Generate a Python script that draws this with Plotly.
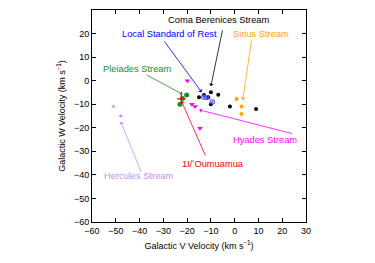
import plotly.graph_objects as go

# Data (V, W velocities in km/s)
coma_v = [-15.0, -12.9, -11.1, -10.0, -10.0, -6.9, -2.0, 9.0]
coma_w = [-7.0, -6.1, -7.0, -4.9, -10.0, -6.0, -11.0, -12.0]
lsr_v = [-13.0, -11.8, -9.4]
lsr_w = [-7.0, -7.2, -9.0]
sirius_v = [0.8, 2.9, 2.9]
sirius_w = [-7.8, -11.0, -14.1]
pleiades_v = [-20.2, -22.0, -23.0]
pleiades_w = [-6.1, -7.6, -10.0]
hyades_v = [-19.9, -18.0, -16.7, -14.6]
hyades_w = [0.0, -10.0, -11.0, -20.2]
hercules_v = [-51.0, -47.9]
hercules_w = [-11.0, -15.0]
oumuamua_v = [-22.4]
oumuamua_w = [-7.7]

# Labels: text, color, text position (V, W), arrow tail (V, W), arrow head (V, W)
labels = [
    ("Coma Berenices Stream", "#000000", (-6.8, 25.6), (-5.0, 22.0), (-10.0, -2.3)),
    ("Local Standard of Rest", "#0000ff", (-27.5, 19.7), (-30.0, 17.3), (-13.9, -4.9)),
    ("Sirius Stream", "#ffa500", (11.0, 19.7), (7.2, 18.0), (3.4, -8.2)),
    ("Pleiades Stream", "#228b22", (-41.0, 5.0), (-37.7, 2.8), (-21.9, -5.8)),
    ("Hyades Stream", "#ff00ff", (12.8, -25.0), (24.7, -22.6), (-14.9, -12.4)),
    ("1I/\u02bbOumuamua", "#ff0000", (-9.0, -35.5), (-12.1, -32.3), (-22.4, -8.6)),
    ("Hercules Stream", "#c090ff", (-40.5, -40.5), (-39.1, -39.3), (-47.9, -17.4)),
]

FONT = "Liberation Sans, Arial, sans-serif"

fig = go.Figure()
fig.add_trace(go.Scatter(x=coma_v, y=coma_w, mode="markers",
                         marker=dict(color="black", size=4, symbol="circle")))
fig.add_trace(go.Scatter(x=lsr_v, y=lsr_w, mode="markers",
                         marker=dict(color="#5050ff", size=4, symbol="square-open", line=dict(width=0.8)),
                         error_x=dict(type="constant", value=0.8, color="#7070ff", thickness=0.7, width=1),
                         error_y=dict(type="constant", value=0.8, color="#7070ff", thickness=0.7, width=1)))
fig.add_trace(go.Scatter(x=sirius_v, y=sirius_w, mode="markers",
                         marker=dict(color="#ffa500", size=4, symbol="circle")))
fig.add_trace(go.Scatter(x=pleiades_v, y=pleiades_w, mode="markers",
                         marker=dict(color="#228b22", size=5, symbol="circle")))
fig.add_trace(go.Scatter(x=hyades_v, y=hyades_w, mode="markers",
                         marker=dict(color="#ff00ff", size=5, symbol="triangle-down")))
fig.add_trace(go.Scatter(x=hercules_v, y=hercules_w, mode="markers",
                         marker=dict(color="#c090ff", size=4, symbol="triangle-up")))
fig.add_trace(go.Scatter(x=oumuamua_v, y=oumuamua_w, mode="markers",
                         marker=dict(color="#ff0000", size=6, symbol="cross-thin",
                                     line=dict(color="#ff0000", width=1.2))))

for text, color, tpos, tail, head in labels:
    fig.add_annotation(x=head[0], y=head[1], ax=tail[0], ay=tail[1],
                       xref="x", yref="y", axref="x", ayref="y",
                       text="", showarrow=True, arrowhead=1, arrowsize=1.0,
                       arrowwidth=0.8, arrowcolor=color)
    fig.add_annotation(x=tpos[0], y=tpos[1], xref="x", yref="y", text=text,
                       showarrow=False, font=dict(color=color, size=9.3, family=FONT))

axis_common = dict(showline=True, linecolor="black", linewidth=1, mirror="allticks",
                   ticks="inside", ticklen=4, tickcolor="black", showgrid=False,
                   zeroline=False, automargin=False,
                   tickfont=dict(size=9, family=FONT, color="black"))

# The page body adds an 8px offset, so the figure is shrunk and margins shifted.
fig.update_layout(
    width=367, height=255,
    margin=dict(l=84, r=69, t=2, b=41, autoexpand=False),
    paper_bgcolor="white", plot_bgcolor="white",
    showlegend=False,
    xaxis=dict(range=[-60, 30], dtick=10, tick0=-60,
               title=dict(text="Galactic V Velocity (km s<sup>\u22121</sup>)",
                          font=dict(size=9, family=FONT, color="black"), standoff=7),
               **axis_common),
    yaxis=dict(range=[-60, 30], dtick=10, tick0=-60,
               title=dict(text="Galactic W Velocity (km s<sup>\u22121</sup>)",
                          font=dict(size=9, family=FONT, color="black"), standoff=6),
               **axis_common),
)

fig.write_html("out.html")
